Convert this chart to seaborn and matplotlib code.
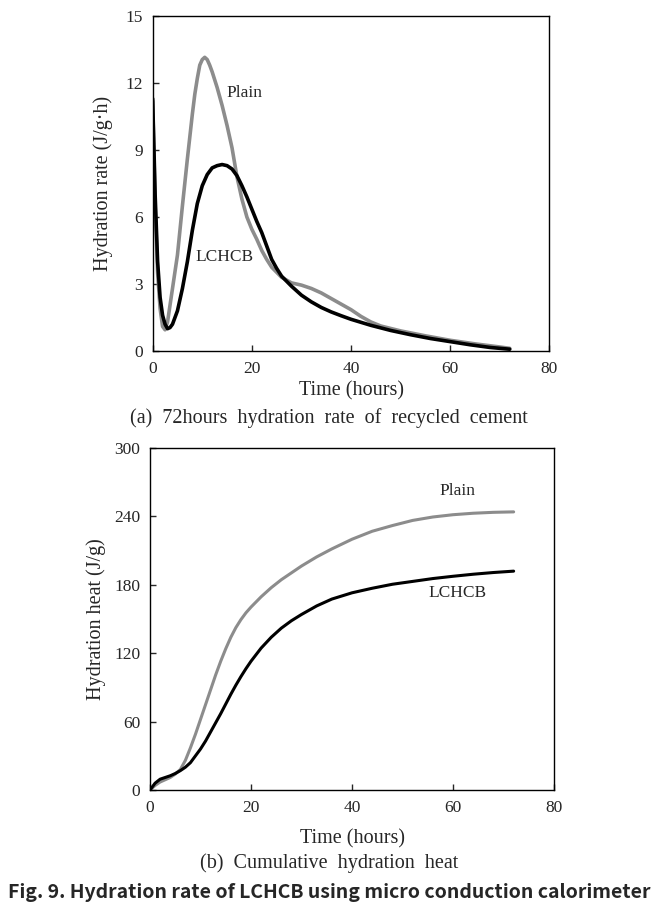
import matplotlib
matplotlib.use("Agg")
import matplotlib.pyplot as plt
import seaborn as sns

# (a) hydration rate, J/(g.h)
rate_time_plain = [0, 0.5, 1, 1.5, 2, 2.5, 3, 4, 5, 6, 7, 8, 8.5, 9, 9.5, 10, 10.5,
                   11, 11.5, 12, 13, 14, 15, 16, 17, 18, 19, 20, 21, 22, 23, 24, 26,
                   28, 30, 32, 34, 36, 38, 40, 42, 44, 46, 50, 55, 60, 65, 70, 72]
rate_plain = [11.2, 6.5, 3.5, 1.9, 1.1, 0.95, 1.3, 2.8, 4.3, 6.5, 8.6, 10.6, 11.5,
              12.2, 12.8, 13.05, 13.15, 13.05, 12.8, 12.5, 11.8, 11.0, 10.1, 9.1,
              7.8, 6.8, 6.0, 5.45, 5.0, 4.5, 4.1, 3.75, 3.3, 3.05, 2.95, 2.8, 2.6,
              2.35, 2.1, 1.85, 1.55, 1.3, 1.12, 0.9, 0.68, 0.48, 0.32, 0.18, 0.12]

rate_time_lchcb = [0, 0.5, 1, 1.5, 2, 2.5, 3, 3.5, 4, 5, 6, 7, 8, 9, 10, 11, 12, 13,
                   14, 15, 16, 17, 18, 19, 20, 21, 22, 23, 24, 25, 26, 28, 30, 32,
                   34, 36, 38, 40, 44, 48, 52, 56, 60, 64, 68, 72]
rate_lchcb = [11.3, 7.0, 4.0, 2.4, 1.6, 1.2, 1.0, 1.05, 1.2, 1.8, 2.8, 4.0, 5.4,
              6.6, 7.4, 7.9, 8.2, 8.3, 8.35, 8.3, 8.15, 7.85, 7.4, 6.9, 6.35, 5.8,
              5.3, 4.7, 4.1, 3.7, 3.35, 2.9, 2.5, 2.2, 1.95, 1.75, 1.58, 1.42, 1.15,
              0.92, 0.73, 0.56, 0.42, 0.28, 0.16, 0.08]

# (b) cumulative hydration heat, J/g
heat_time = [0, 1, 2, 3, 4, 5, 6, 7, 8, 9, 10, 11, 12, 13, 14, 15, 16, 17, 18, 19,
             20, 22, 24, 26, 28, 30, 33, 36, 40, 44, 48, 52, 56, 60, 64, 68, 72]
heat_plain = [0, 4, 7, 9, 11, 14, 18, 26, 37, 49, 62, 75, 88, 101, 113, 124, 134,
              142.5, 149.5, 155.5, 160.5, 169.5, 177.5, 184.5, 190.5, 196.5, 204.5,
              211.5, 220, 227, 232, 236.5, 239.5, 241.5, 242.8, 243.6, 244]
heat_lchcb = [0, 6, 9.5, 11, 12.5, 14.5, 17, 20, 24, 30, 36, 43, 51, 59, 67, 75.5,
              84, 92, 99.5, 106.5, 113, 124.5, 134, 142, 148.5, 154, 161.5, 167.5,
              173, 177, 180.5, 183, 185.5, 187.5, 189.3, 190.8, 192]

GRAY = "#8c8c8c"
BLACK = "#000000"

sns.set_style("ticks")
plt.rcParams['font.family'] = ['Liberation Serif', 'DejaVu Serif']
plt.rcParams['axes.linewidth'] = 1.0

fig = plt.figure(figsize=(6.58, 9.11), dpi=100)
ax_a = fig.add_axes([0.232, 0.6147, 0.603, 0.3677])
ax_b = fig.add_axes([0.228, 0.1328, 0.614, 0.3754])

# --- panel (a)
sns.lineplot(x=rate_time_plain, y=rate_plain, color=GRAY, linewidth=2.6, ax=ax_a)
sns.lineplot(x=rate_time_lchcb, y=rate_lchcb, color=BLACK, linewidth=2.6, ax=ax_a)
ax_a.set_xlim(0, 80)
ax_a.set_ylim(0, 15)
ax_a.set_xticks([0, 20, 40, 60, 80])
ax_a.set_yticks([0, 3, 6, 9, 12, 15])
ax_a.set_xlabel("Time (hours)", fontsize=14.5, labelpad=3)
ax_a.set_ylabel("Hydration rate (J/g\u00b7h)", fontsize=14.5, labelpad=9)
ax_a.text(18.6, 11.55, "Plain", fontsize=12.5, ha='center', va='center')
ax_a.text(14.4, 4.2, "LCHCB", fontsize=12.5, ha='center', va='center')

# --- panel (b)
sns.lineplot(x=heat_time, y=heat_plain, color=GRAY, linewidth=2.2, ax=ax_b)
sns.lineplot(x=heat_time, y=heat_lchcb, color=BLACK, linewidth=2.2, ax=ax_b)
ax_b.set_xlim(0, 80)
ax_b.set_ylim(0, 300)
ax_b.set_xticks([0, 20, 40, 60, 80])
ax_b.set_yticks([0, 60, 120, 180, 240, 300])
ax_b.set_xlabel("Time (hours)", fontsize=14.5, labelpad=10)
ax_b.set_ylabel("Hydration heat (J/g)", fontsize=14.5, labelpad=6)
ax_b.text(60.9, 262, "Plain", fontsize=12.5, ha='center', va='center')
ax_b.text(60.8, 172.5, "LCHCB", fontsize=12.5, ha='center', va='center')

for ax in (ax_a, ax_b):
    for side in ("top", "right", "bottom", "left"):
        ax.spines[side].set_visible(True)
        ax.spines[side].set_color("black")
    ax.tick_params(axis='both', which='both', direction='in', length=4,
                   width=1.0, labelsize=12.5, pad=7, top=False, right=False)

# captions
fig.text(0.5, 1 - 418 / 911, "(a)  72hours  hydration  rate  of  recycled  cement",
         fontsize=14.5, ha='center', va='center')
fig.text(0.5, 1 - 863 / 911, "(b)  Cumulative  hydration  heat",
         fontsize=14.5, ha='center', va='center')
fig.text(0.5, 1 - 893 / 911,
         "Fig. 9. Hydration rate of LCHCB using micro conduction calorimeter",
         fontsize=14, fontweight='bold', ha='center', va='center',
         family=['Noto Sans CJK KR', 'DejaVu Sans'])

fig.savefig("out.png", dpi=100)
plt.close(fig)
